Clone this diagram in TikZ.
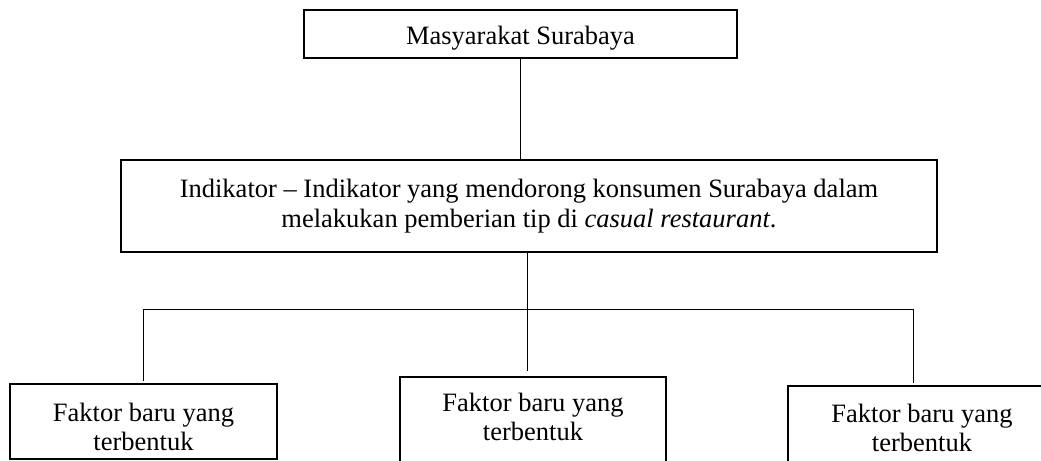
\documentclass[tikz,border=0pt]{standalone}
\usepackage{fontspec}
\setmainfont{Liberation Serif}
\tikzset{
  kotak/.style={draw, line width=0.8pt, inner sep=0pt, align=center, font=\fontsize{13.25}{14.4}\selectfont},
  garis/.style={line width=0.5pt},
}

\begin{document}
\begin{tikzpicture}[x=0.5pt,y=-0.5pt]
    \useasboundingbox (0,0) rectangle (1041,461);
    \clip (0,0) rectangle (1041,461);

    % kotak atas
    \node[kotak, minimum width=216.5pt, minimum height=24pt] (masyarakat) at (520.5,34) {\rule{0pt}{13.8pt}Masyarakat Surabaya};

    % kotak indikator
    \node[kotak, minimum width=408pt, minimum height=46pt, font=\fontsize{13.25}{14.7}\selectfont] (indikator) at (529,206)
        {Indikator – Indikator yang mendorong konsumen Surabaya dalam\\ melakukan pemberian tip di \textit{casual restaurant}.};

    % tiga kotak faktor
    \node[kotak, minimum width=133.5pt, minimum height=37.5pt] (faktorkiri) at (143.5,421.5) {\rule{0pt}{14.3pt}Faktor baru yang\\ terbentuk};
    \node[kotak, minimum width=133pt, minimum height=46.5pt] (faktortengah) at (533,423.5) {Faktor baru yang\\ terbentuk\rule[-7pt]{0pt}{7pt}};
    \node[kotak, minimum width=134pt, minimum height=42pt] (faktorkanan) at (922,428) {Faktor baru yang\\ terbentuk};

    % garis penghubung
    \coordinate (cabang) at (527,309);
    \coordinate (cabangkiri) at (143,309);
    \coordinate (cabangkanan) at (913,309);
    \draw[garis] (masyarakat.south) -- (masyarakat.south |- indikator.north);
    \draw[garis] (cabang |- indikator.south) -- (cabang);
    \draw[garis] (cabangkiri) -- (cabangkanan);
    \draw[garis, shorten >=1.2pt] (cabangkiri) -- (cabangkiri |- faktorkiri.north);
    \draw[garis, shorten >=2.5pt] (cabang) -- (cabang |- faktortengah.north);
    \draw[garis, shorten >=1.3pt] (cabangkanan) -- (cabangkanan |- faktorkanan.north);
\end{tikzpicture}
\end{document}
